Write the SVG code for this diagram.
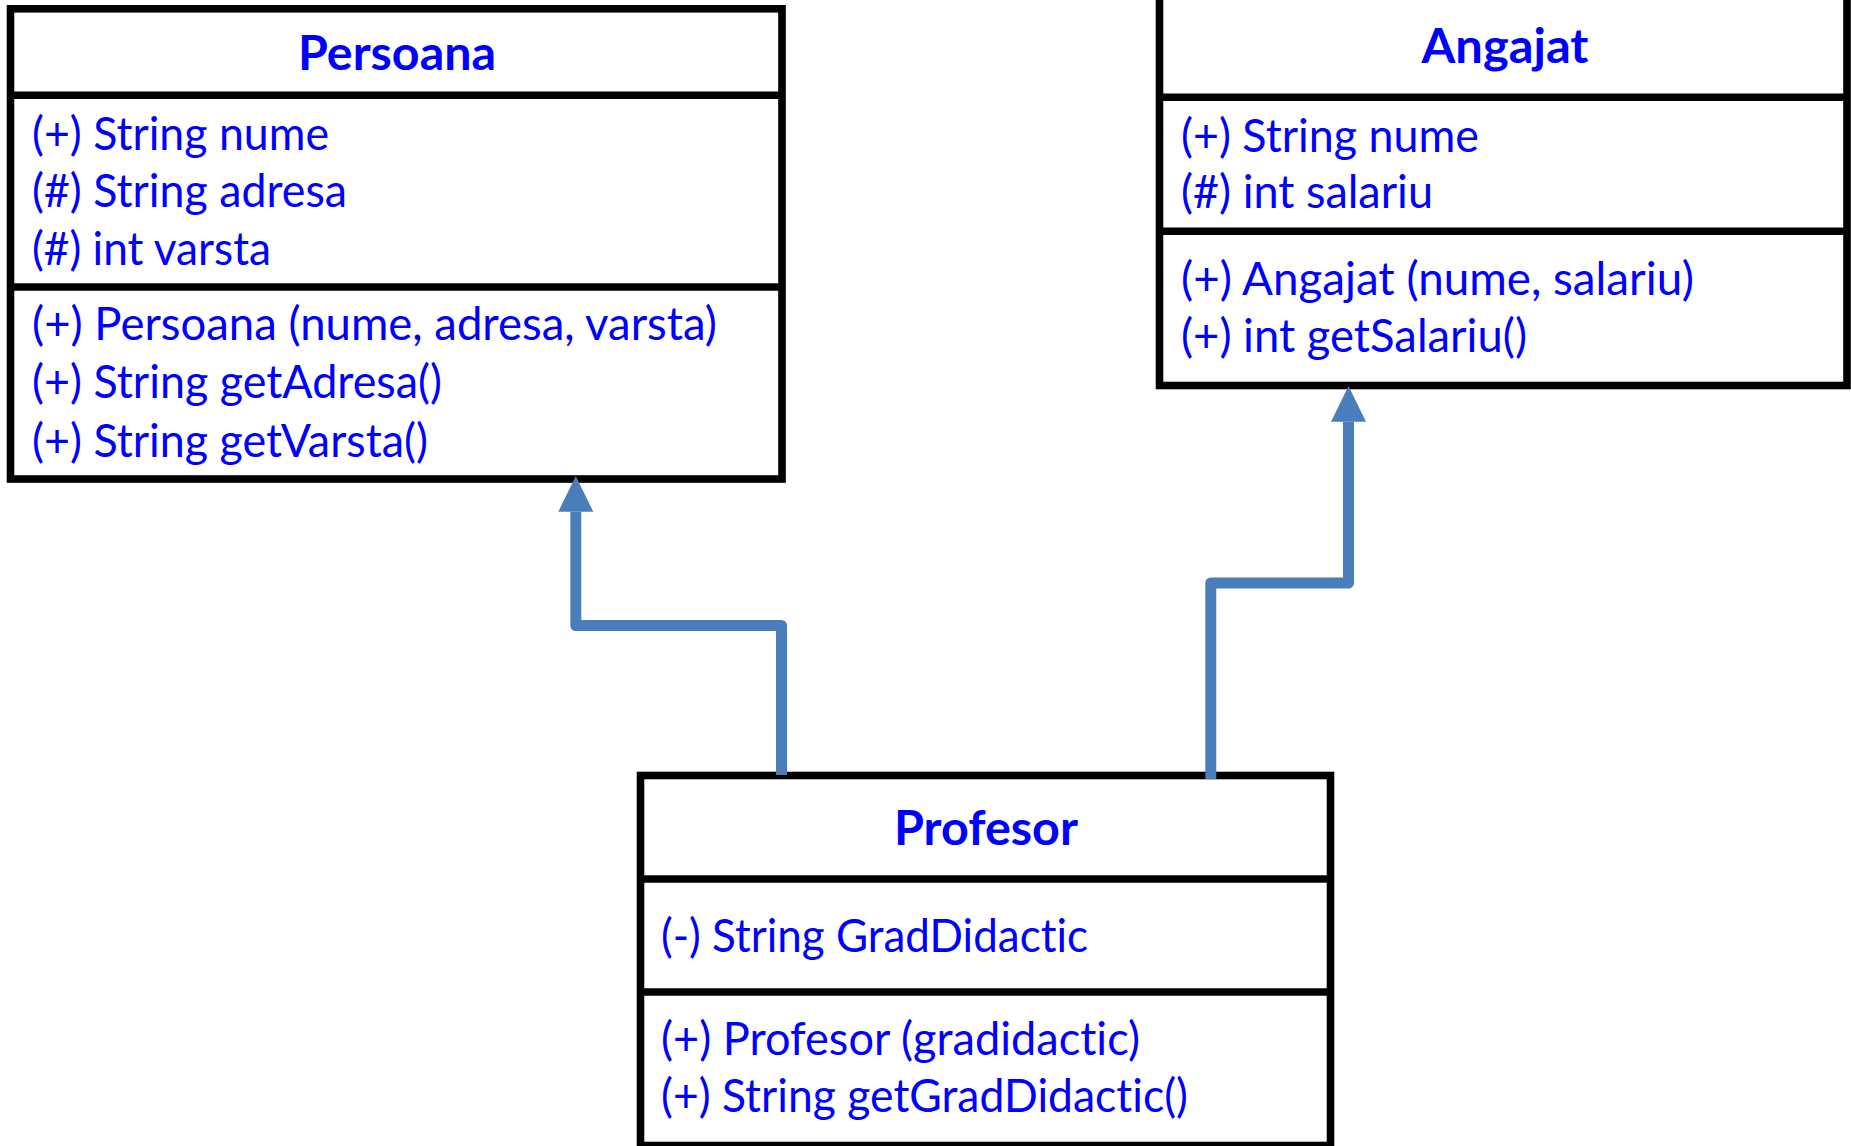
<svg xmlns="http://www.w3.org/2000/svg" width="1851" height="1146" viewBox="0 0 1851 1146">
  <style>
    .box { fill: #ffffff; stroke: #000000; stroke-width: 7.6; }
    .div { stroke: #000000; stroke-width: 7.6; }
    .title { font-family: Lato, "Liberation Sans", sans-serif; font-weight: bold; font-size: 47px; fill: #0000ff; text-anchor: middle; font-variant-ligatures: none; }
    .item { font-family: Lato, "Liberation Sans", sans-serif; font-size: 46px; fill: #0000ff; font-variant-ligatures: none; }
    .conn { fill: none; stroke: #4a7ebb; stroke-width: 11; stroke-linejoin: round; }
  </style>
  <defs>
    <marker id="arrow" markerUnits="userSpaceOnUse" viewBox="0 -18 36 36" markerWidth="36" markerHeight="36" refX="0" refY="0" orient="auto" overflow="visible">
      <path d="M0,-17.5 L35.7,0 L0,17.5 Z" fill="#4a7ebb"/>
    </marker>
  </defs>
  <rect width="1851" height="1146" fill="#ffffff"/>

  <g id="Persoana">
    <rect class="box" x="10.5" y="8.8" width="771.5" height="470.2"/>
    <line class="div" x1="10.5" y1="95.3" x2="782" y2="95.3"/>
    <line class="div" x1="10.5" y1="287" x2="782" y2="287"/>
    <text class="title" x="397" y="70" textLength="198" lengthAdjust="spacingAndGlyphs">Persoana</text>
    <text class="item" x="32" y="150" textLength="297" lengthAdjust="spacingAndGlyphs">(+) String nume</text>
    <text class="item" x="32" y="206.7" textLength="315" lengthAdjust="spacingAndGlyphs">(#) String adresa</text>
    <text class="item" x="32" y="265" textLength="239" lengthAdjust="spacingAndGlyphs">(#) int varsta</text>
    <text class="item" x="32" y="340" textLength="685" lengthAdjust="spacingAndGlyphs">(+) Persoana (nume, adresa, varsta)</text>
    <text class="item" x="32" y="398" textLength="410" lengthAdjust="spacingAndGlyphs">(+) String getAdresa()</text>
    <text class="item" x="32" y="456.7" textLength="396" lengthAdjust="spacingAndGlyphs">(+) String getVarsta()</text>
  </g>

  <g id="Angajat">
    <rect class="box" x="1159.5" y="-20" width="687.5" height="405.5"/>
    <line class="div" x1="1159.5" y1="97.3" x2="1847" y2="97.3"/>
    <line class="div" x1="1159.5" y1="231.3" x2="1847" y2="231.3"/>
    <text class="title" x="1505" y="63.3" textLength="167" lengthAdjust="spacingAndGlyphs">Angajat</text>
    <text class="item" x="1181" y="151.7" textLength="298" lengthAdjust="spacingAndGlyphs">(+) String nume</text>
    <text class="item" x="1181" y="208.3" textLength="252" lengthAdjust="spacingAndGlyphs">(#) int salariu</text>
    <text class="item" x="1181" y="295" textLength="513" lengthAdjust="spacingAndGlyphs">(+) Angajat (nume, salariu)</text>
    <text class="item" x="1181" y="351.7" textLength="346" lengthAdjust="spacingAndGlyphs">(+) int getSalariu()</text>
  </g>

  <g id="Profesor">
    <rect class="box" x="640.5" y="775.5" width="690" height="370"/>
    <line class="div" x1="640.5" y1="879" x2="1330.5" y2="879"/>
    <line class="div" x1="640.5" y1="992" x2="1330.5" y2="992"/>
    <text class="title" x="986" y="845" textLength="184" lengthAdjust="spacingAndGlyphs">Profesor</text>
    <text class="item" x="661" y="951.7" textLength="427" lengthAdjust="spacingAndGlyphs">(-) String GradDidactic</text>
    <text class="item" x="661" y="1055" textLength="479" lengthAdjust="spacingAndGlyphs">(+) Profesor (gradidactic)</text>
    <text class="item" x="661" y="1111.7" textLength="527" lengthAdjust="spacingAndGlyphs">(+) String getGradDidactic()</text>
  </g>

  <g id="connectors">
    <path class="conn" d="M781.5,775 V625.5 H575.8 V511.7" marker-end="url(#arrow)"/>
    <path class="conn" d="M1210.8,779 V583 H1348.5 V421.7" marker-end="url(#arrow)"/>
  </g>
</svg>
